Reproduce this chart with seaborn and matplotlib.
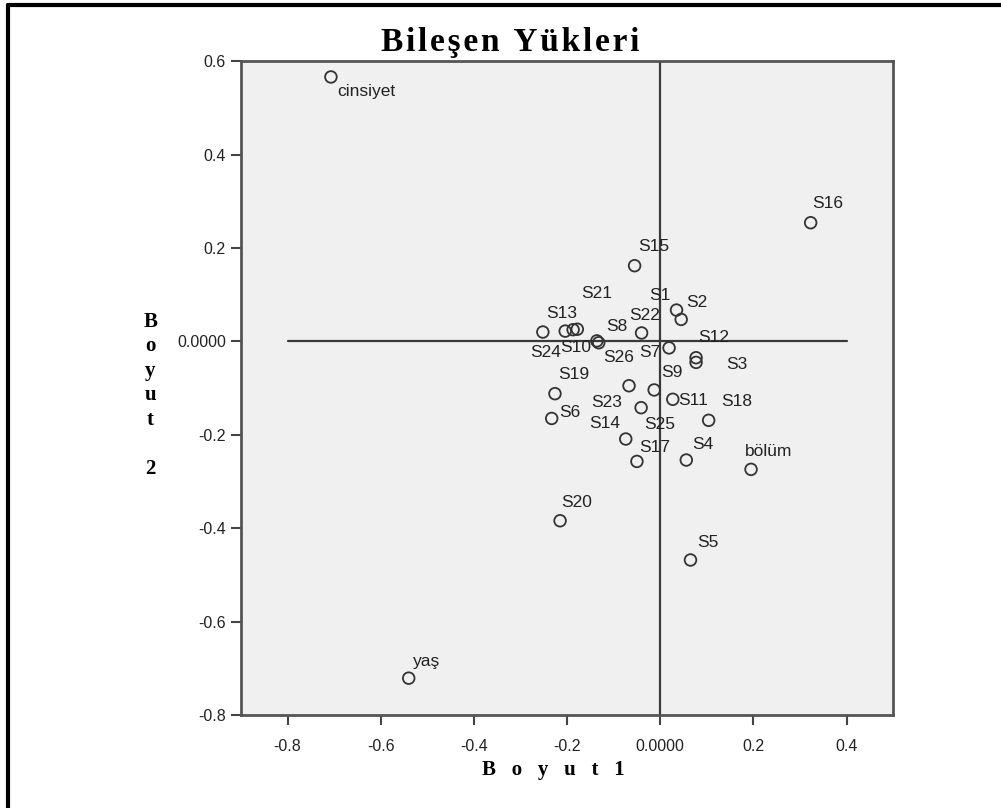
import matplotlib
matplotlib.use("Agg")
import matplotlib.pyplot as plt
import pandas as pd
import seaborn as sns

# component loadings
labels = [
    "cinsiyet", "S16", "S15", "S1", "S2", "S22",
    "S13", "S24", "S10", "S21", "S8", "S26",
    "S7", "S12", "S3", "S9", "S23", "S11",
    "S18", "S19", "S6", "S25", "S14", "S17",
    "S4", "bölüm", "S20", "S5", "yaş",
]
dim1 = [
    -0.707, 0.323, -0.055, 0.035, 0.045, -0.040,
    -0.252, -0.204, -0.187, -0.178, -0.132, -0.136,
    0.019, 0.077, 0.077, -0.013, -0.067, 0.027,
    0.104, -0.226, -0.233, -0.041, -0.074, -0.050,
    0.056, 0.195, -0.215, 0.065, -0.540,
]
dim2 = [
    0.566, 0.254, 0.162, 0.067, 0.047, 0.018,
    0.020, 0.022, 0.025, 0.026, -0.003, 0.001,
    -0.014, -0.035, -0.045, -0.104, -0.095, -0.124,
    -0.169, -0.112, -0.165, -0.142, -0.209, -0.257,
    -0.254, -0.274, -0.384, -0.468, -0.721,
]

# label placement relative to its point, in pixels (right, up)
label_offsets = [
    (35, -15), (17, 19), (19, 19), (-17, 15), (16, 17), (3, 17),
    (19, 19), (-20, -21), (3, -18), (19, 36), (18, 16), (22, -17),
    (-19, -5), (18, 20), (41, -2), (18, 17), (-22, -17), (20, -1),
    (28, 19), (19, 19), (18, 6), (19, -17), (-21, 16), (18, 14),
    (17, 16), (18, 18), (17, 18), (17, 17), (18, 17),
]

x_ticks = [-0.8, -0.6, -0.4, -0.2, 0.0, 0.2, 0.4]
y_ticks = [-0.8, -0.6, -0.4, -0.2, 0.0, 0.2, 0.4, 0.6]

df = pd.DataFrame({"label": labels, "Boyut 1": dim1, "Boyut 2": dim2})

sns.set_style("white")
plt.rcParams["font.family"] = ["Liberation Sans", "DejaVu Sans"]

fig = plt.figure(figsize=(10.01, 8.08), dpi=100)
ax = fig.add_axes([0.2408, 0.115, 0.6514, 0.8094])
ax.set_facecolor("#f0f0f0")

# reference lines through the origin
ax.plot([-0.8, 0.4], [0, 0], color="#3a3a3a", lw=1.6, zorder=1)
ax.plot([0, 0], [-0.8, 0.6], color="#3a3a3a", lw=1.6, zorder=1)

sns.scatterplot(
    data=df, x="Boyut 1", y="Boyut 2", ax=ax,
    marker="o", s=70, facecolor="none", edgecolor="#333333",
    linewidth=1.3, zorder=3,
)

for lab, xv, yv, off in zip(labels, dim1, dim2, label_offsets):
    ax.annotate(lab, (xv, yv), xytext=off, textcoords="offset pixels",
                ha="center", va="center", fontsize=12.5, color="#222222")

ax.set_xlim(-0.9, 0.5)
ax.set_ylim(-0.8, 0.6)
ax.set_xticks(x_ticks)
ax.set_yticks(y_ticks)
ax.set_xticklabels(["0.0000" if t == 0 else f"{t:.1f}" for t in x_ticks])
ax.set_yticklabels(["0.0000" if t == 0 else f"{t:.1f}" for t in y_ticks])
ax.tick_params(axis="both", direction="out", length=7, width=1.5,
               color="#444444", labelsize=11.5, labelcolor="#222222", pad=4,
               bottom=True, left=True)
ax.tick_params(axis="x", pad=10)
ax.set_xlabel("")
ax.set_ylabel("")
for sp in ax.spines.values():
    sp.set_color("#555555")
    sp.set_linewidth(2)

hs = "\u200a"
title = hs.join("Bileşen Yükleri")
fig.text(0.51, 0.948, title, ha="center", va="center",
         fontsize=24, fontweight="bold", color="black",
         family=["Liberation Serif", "DejaVu Serif"])
fig.text(0.553, 0.047, "B   o   y   u   t   1", ha="center", va="center",
         fontsize=15, fontweight="bold", color="black",
         family="Liberation Serif")
fig.text(0.15, 0.511, "B\no\ny\nu\nt\n\n2", ha="center", va="center",
         fontsize=15, fontweight="bold", color="black",
         family="Liberation Serif", linespacing=1.3)

# outer frame of the output window
fig.add_artist(plt.Line2D([0.008, 0.008], [0, 0.994], color="black", lw=3,
                          transform=fig.transFigure))
fig.add_artist(plt.Line2D([0.008, 1], [0.994, 0.994], color="black", lw=3,
                          transform=fig.transFigure))

fig.savefig("out.png", dpi=100)
